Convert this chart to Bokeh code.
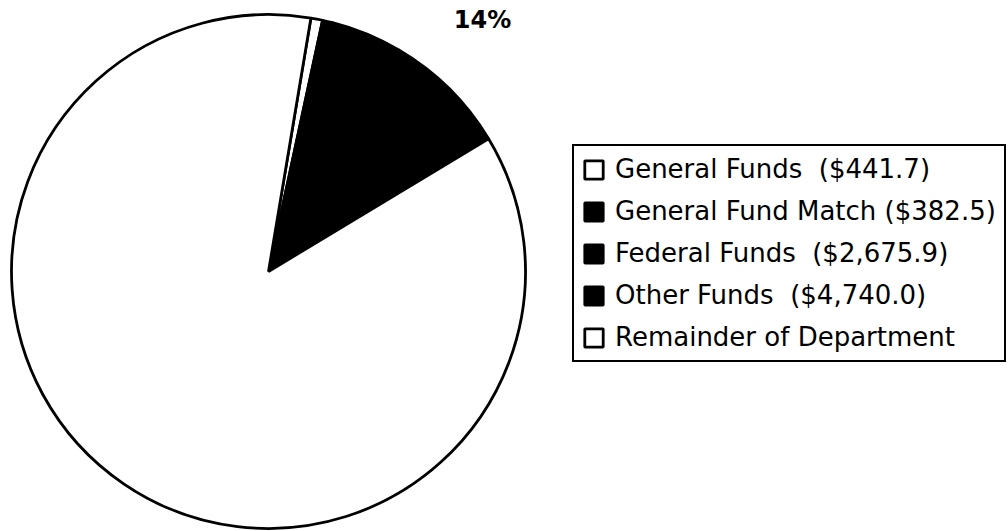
import math
from bokeh.plotting import figure
from bokeh.models import ColumnDataSource, Legend, LegendItem
from bokeh.embed import file_html
from bokeh.resources import INLINE
from bokeh.core.properties import value

# ---- data (millions) ----
categories = ["General Funds  ($441.7)", "General Fund Match ($382.5)",
              "Federal Funds  ($2,675.9)", "Other Funds  ($4,740.0)",
              "Remainder of Department"]
amounts = [441.7, 382.5, 2675.9, 4740.0, 51800.0]
colors = ["white", "black", "black", "black", "white"]

# ---- layout ----
W, H = 1008, 531
cx, cy, R = 268, H - 271, 257
start_compass = 9.5  # degrees clockwise from 12 o'clock

total = sum(amounts)
starts, ends = [], []
acc = start_compass
for a in amounts:
    sweep = a / total * 360.0
    starts.append(math.radians(90 - acc))
    ends.append(math.radians(90 - acc - sweep))
    acc += sweep

src = ColumnDataSource(dict(x=[cx] * len(amounts), y=[cy] * len(amounts),
                            start=starts, end=ends, color=colors,
                            label=categories))

p = figure(width=W, height=H, x_range=(0, W), y_range=(0, H),
           x_axis_type=None, y_axis_type=None, toolbar_location=None,
           output_backend="svg", min_border=0, outline_line_color=None,
           background_fill_color="white", border_fill_color="white")
p.grid.visible = False

r = p.wedge(x="x", y="y", radius=R, radius_units="screen",
            start_angle="start", end_angle="end", direction="clock",
            fill_color="color", line_color="black", line_width=2.8,
            source=src)

# percentage label of the agency share
share = sum(amounts[:4]) / total
p.text(x=[482], y=[H - 19], text=[f"{round(share * 100):d}%"],
       text_font=value("DejaVu Sans"), text_font_style="bold",
       text_font_size="24px", text_align="center", text_baseline="middle",
       text_color="black")

items = [LegendItem(label=categories[i], renderers=[r], index=i)
         for i in range(len(categories))]
legend = Legend(items=items, location=(572, H - 362), orientation="vertical",
                label_text_font="DejaVu Sans", label_text_font_size="26px",
                label_text_color="black", label_height=30, glyph_height=23,
                glyph_width=23, label_standoff=10, spacing=12, padding=8,
                margin=0, border_line_color="black", border_line_width=2,
                border_line_alpha=1.0,
                background_fill_color="white", background_fill_alpha=1.0)
p.add_layout(legend, "center")

open("out.html", "w").write(file_html(p, INLINE))
